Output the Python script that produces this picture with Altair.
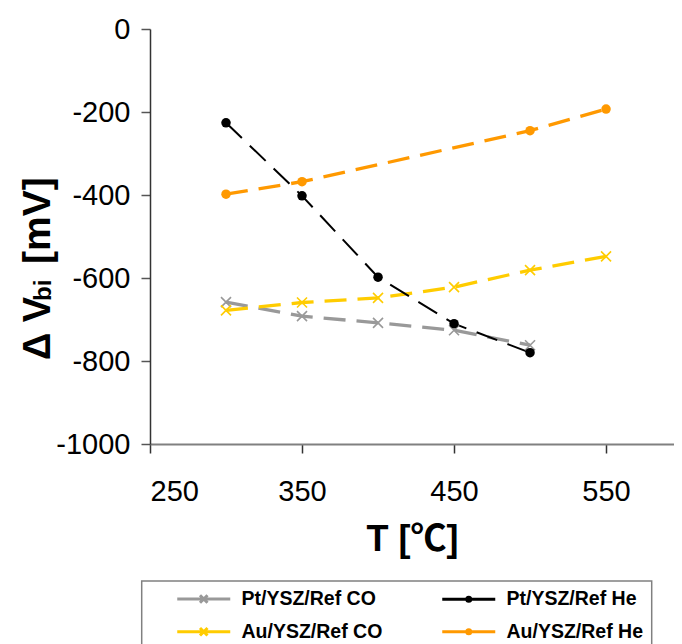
import altair as alt
import pandas as pd

# ---- data ----
temps = [300, 350, 400, 450, 500, 550]
series_names = ["Pt/YSZ/Ref CO", "Pt/YSZ/Ref He", "Au/YSZ/Ref CO", "Au/YSZ/Ref He"]
pt_co = [-658, -692, -708, -726, -762, None]
pt_he = [-226, -402, -598, -710, -780, None]
au_co = [-678, -659, -648, -622, -581, -548]
au_he = [-398, -368, None, None, -245, -193]
colors = ["#999999", "#000000", "#FFCC00", "#FF9900"]
x_ticks = [250, 350, 450, 550]
y_ticks = [0, -200, -400, -600, -800, -1000]

rows = []
for name, vals in zip(series_names, [pt_co, pt_he, au_co, au_he]):
    for t, v in zip(temps, vals):
        if v is not None:
            rows.append({"T": t, "dV": v, "series": name})
df = pd.DataFrame(rows)

FONT = "Liberation Sans, Arial, DejaVu Sans"
TFONT = "Liberation Sans, Arial, Noto Sans CJK SC"

x_enc = alt.X(
    "T:Q",
    scale=alt.Scale(domain=[250, 594.7], nice=False, zero=False),
    axis=alt.Axis(
        values=x_ticks, title="T [℃]", titleFont=TFONT, titleFontSize=36,
        titleFontWeight="bold", titleColor="black", titlePadding=16,
        labelFont=FONT, labelFontSize=29, labelColor="black", labelPadding=24,
        tickSize=9, tickColor="#333333", tickWidth=1.5,
        domainColor="#808080", domainWidth=2, grid=False,
    ),
)
y_enc = alt.Y(
    "dV:Q",
    scale=alt.Scale(domain=[-1000, 0], nice=False),
    axis=alt.Axis(
        values=y_ticks, title=None, labelExpr="'' + datum.value",
        labelFont=FONT, labelFontSize=29, labelColor="black", labelPadding=11,
        tickSize=9, tickColor="#555555", tickWidth=1.5,
        domainColor="#333333", domainWidth=1.5, grid=False,
    ),
)
color_scale = alt.Scale(domain=series_names, range=colors)
color_nolegend = alt.Color("series:N", scale=color_scale, legend=None)

base = alt.Chart(df)

# legend symbols: line with marker
line_path = "M-5.3,0H5.3"
circ = "M-0.4,0A0.4,0.4 0 1,0 0.4,0A0.4,0.4 0 1,0 -0.4,0"
xmark = "M-0.75,-0.75L0.75,0.75M-0.75,0.75L0.75,-0.75"
shape_paths = [line_path + xmark, line_path + circ, line_path + xmark, line_path + circ]

leg = alt.Legend(
    orient="none", legendX=-8.3, legendY=552, direction="horizontal", columns=2,
    title=None, padding=8, strokeColor="#808080",
    labelFont=FONT, labelFontSize=19.5, labelFontWeight="bold", labelColor="black",
    labelLimit=400, symbolSize=100, symbolStrokeWidth=3, symbolOpacity=1,
    symbolOffset=44.3, labelOffset=28, columnPadding=32, rowPadding=12,
    labelExpr="datum.label + '        '",
)

# invisible layer (size 0) that carries the legend; placed first so its legend wins
legend_layer = base.mark_point(filled=False, size=0).encode(
    x=x_enc, y=y_enc,
    color=alt.Color("series:N", scale=color_scale, legend=leg),
    shape=alt.Shape("series:N", scale=alt.Scale(domain=series_names, range=shape_paths), legend=leg),
)

thick_lines = base.transform_filter(
    alt.FieldOneOfPredicate(field="series", oneOf=["Pt/YSZ/Ref CO", "Au/YSZ/Ref CO", "Au/YSZ/Ref He"])
).mark_line(strokeDash=[22, 11], strokeWidth=3.3).encode(x=x_enc, y=y_enc, color=color_nolegend)

thin_line = base.transform_filter(
    alt.FieldOneOfPredicate(field="series", oneOf=["Pt/YSZ/Ref He"])
).mark_line(strokeDash=[22, 11], strokeWidth=2.0).encode(x=x_enc, y=y_enc, color=color_nolegend)

dots = base.transform_filter(
    alt.FieldOneOfPredicate(field="series", oneOf=["Pt/YSZ/Ref He", "Au/YSZ/Ref He"])
).mark_point(shape="circle", filled=True, size=90, opacity=1).encode(
    x=x_enc, y=y_enc, color=color_nolegend
)

crosses = base.transform_filter(
    alt.FieldOneOfPredicate(field="series", oneOf=["Pt/YSZ/Ref CO", "Au/YSZ/Ref CO"])
).mark_point(shape="M-1,-1L1,1M-1,1L1,-1", filled=False, size=100, strokeWidth=1.6, opacity=1).encode(
    x=x_enc, y=y_enc, color=color_nolegend
)

# y-axis title with subscript, composed of rotated text pieces
one = alt.Data(values=[{}])
t1 = alt.Chart(one).mark_text(
    text="Δ V", angle=270, align="left", baseline="alphabetic",
    font=FONT, fontSize=38, fontWeight="bold", color="black",
).encode(x=alt.value(-100), y=alt.value(331))
t2 = alt.Chart(one).mark_text(
    text="bi", angle=270, align="left", baseline="alphabetic", dy=1,
    font=FONT, fontSize=24, fontWeight="bold", color="black",
).encode(x=alt.value(-100), y=alt.value(272))
t3 = alt.Chart(one).mark_text(
    text="[mV]", angle=270, align="left", baseline="alphabetic",
    font=FONT, fontSize=39, fontWeight="bold", color="black",
).encode(x=alt.value(-100), y=alt.value(235))

chart = alt.layer(legend_layer, thick_lines, thin_line, crosses, dots, t1, t2, t3).properties(
    width=524, height=415,
    autosize=alt.AutoSizeParams(type="none"),
    padding={"left": 142, "top": 21, "right": 0, "bottom": 200},
).configure_view(strokeWidth=0).configure_legend(strokeWidth=1.5)

chart.save("out.html", embed_options={"renderer": "svg", "actions": False})
